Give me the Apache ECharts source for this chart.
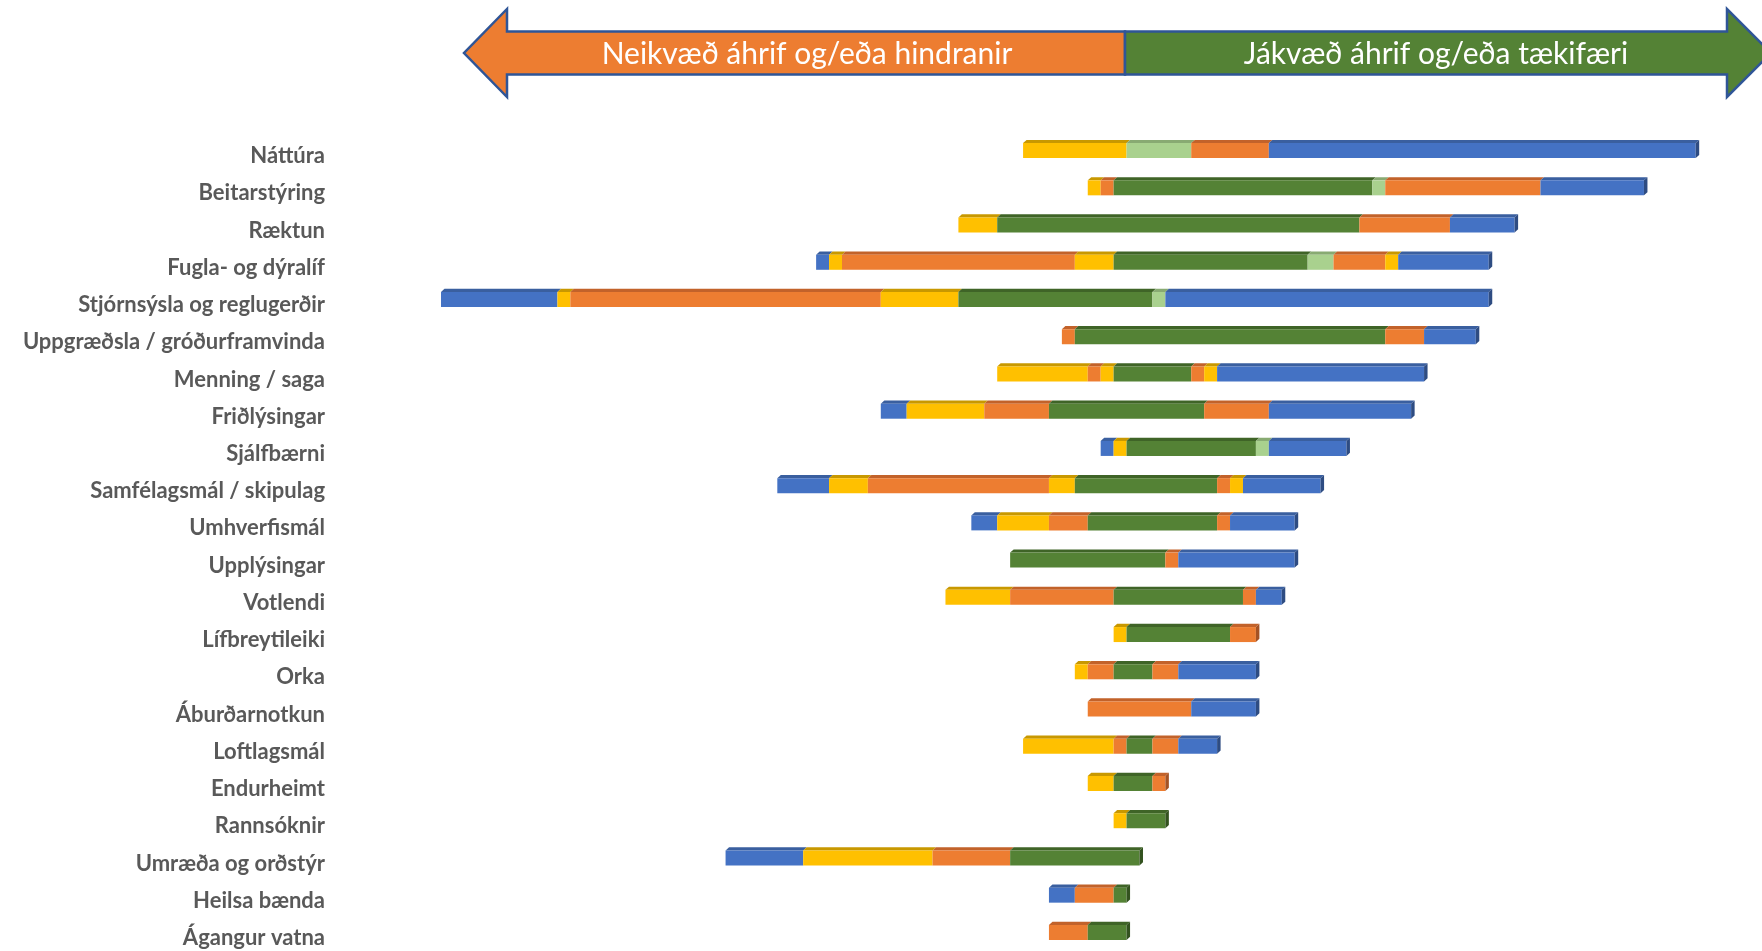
<!DOCTYPE html>
<html>
<head>
<meta charset="utf-8">
<script src="https://cdn.jsdelivr.net/npm/echarts@6/dist/echarts.min.js"></script>
<style>
html,body{margin:0;padding:0;background:#fff;}
#chart{width:1762px;height:951px;}
</style>
</head>
<body>
<div id="chart"></div>
<script>
// ---- DATA ----
const categories = [
  'Náttúra','Beitarstýring','Ræktun','Fugla- og dýralíf','Stjórnsýsla og reglugerðir',
  'Uppgræðsla / gróðurframvinda','Menning / saga','Friðlýsingar','Sjálfbærni',
  'Samfélagsmál / skipulag','Umhverfismál','Upplýsingar','Votlendi','Lífbreytileiki',
  'Orka','Áburðarnotkun','Loftlagsmál','Endurheimt','Rannsóknir','Umræða og orðstýr',
  'Heilsa bænda','Ágangur vatna'
];
// left starting point of each bar (invisible offset)
const offsets   = [-7,-2,-12,-23,-52,-4,-9,-18,-1,-26,-11,-8,-13,0,-3,-2,-7,-2,0,-30,-5,-5];
// stacked segments, in stacking order (left to right)
const blueA     = [0,0,0,1,9,0,0,2,1,4,2,0,0,0,0,0,0,0,0,6,2,0];
const yellowA   = [0,1,0,1,1,0,7,6,1,3,4,0,5,0,1,0,7,2,0,10,0,0];
const orangeA   = [0,1,0,18,24,1,1,5,0,14,3,0,8,0,2,8,1,0,0,6,3,3];
const yellowB   = [8,0,3,3,6,0,1,0,0,2,0,0,0,1,0,0,0,0,1,0,0,0];
const green     = [0,20,28,15,15,24,6,12,10,11,10,12,10,8,3,0,2,3,3,10,1,3];
const lightGreen= [5,1,0,2,1,0,0,0,1,0,0,0,0,0,0,0,0,0,0,0,0,0];
const orangeB   = [6,12,7,4,0,3,1,5,0,1,1,1,1,2,2,0,2,1,0,0,0,0];
const yellowC   = [0,0,0,1,0,0,1,0,0,1,0,0,0,0,0,0,0,0,0,0,0,0];
const blueB     = [33,8,5,7,25,4,16,11,6,6,5,9,2,0,6,5,3,0,0,0,0,0];

const leftTitle  = 'Neikvæð áhrif og/eða hindranir';
const rightTitle = 'Jákvæð áhrif og/eða tækifæri';

// ---- STYLE ----
const segDefs = [
  {name:'blueA', data:blueA, color:'#4472C4', top:'#3A5F9F', side:'#2E4C82'},
  {name:'yellowA', data:yellowA, color:'#FFC000', top:'#C89800', side:'#A88000'},
  {name:'orangeA', data:orangeA, color:'#ED7D31', top:'#C2622A', side:'#A45224'},
  {name:'yellowB', data:yellowB, color:'#FFC000', top:'#C89800', side:'#A88000'},
  {name:'green', data:green, color:'#548235', top:'#3F6427', side:'#33521F'},
  {name:'lightGreen', data:lightGreen, color:'#A9D18E', top:'#88AA72', side:'#6F8C5C'},
  {name:'orangeB', data:orangeB, color:'#ED7D31', top:'#C2622A', side:'#A45224'},
  {name:'yellowC', data:yellowC, color:'#FFC000', top:'#C89800', side:'#A88000'},
  {name:'blueB', data:blueB, color:'#4472C4', top:'#3A5F9F', side:'#2E4C82'}
];

// build stacked start/end per segment
const cum = offsets.slice();
const lastIdx = categories.map((_, i) => {
  let l = -1;
  segDefs.forEach((s, k) => { if (s.data[i] > 0) l = k; });
  return l;
});
const series = segDefs.map((s, k) => {
  const data = [];
  for (let i = 0; i < categories.length; i++) {
    const v = s.data[i];
    if (v > 0) {
      data.push([cum[i], cum[i] + v, i, lastIdx[i] === k ? 1 : 0]);
      cum[i] += v;
    }
  }
  return {
    name: s.name,
    type: 'custom',
    encode: {x: [0, 1], y: 2},
    data: data,
    renderItem: function (params, api) {
      const st = api.value(0), en = api.value(1), c = api.value(2), last = api.value(3);
      const p0 = api.coord([st, c]);
      const p1 = api.coord([en, c]);
      const x0 = p0[0], x1 = p1[0], cy = p0[1];
      const d = 3.5, hTop = 3.2;
      const yT = cy - 7.5, yB = cy + 7.5;
      const children = [
        {type: 'polygon', shape: {points: [[x0, yT], [x1, yT], [x1 + d, yT - hTop], [x0 + d, yT - hTop]]},
         style: {fill: s.top}},
        {type: 'rect', shape: {x: x0, y: yT, width: x1 - x0, height: yB - yT},
         style: {fill: s.color}}
      ];
      if (last) {
        children.push({type: 'polygon', shape: {points: [[x1, yT], [x1 + d, yT - hTop], [x1 + d, yB - hTop], [x1, yB]]},
          style: {fill: s.side}});
      }
      return {type: 'group', children: children};
    }
  };
});

const unitPx = 12.935;
const chart = echarts.init(document.getElementById('chart'), null, {renderer: 'canvas'});
chart.setOption({
  animation: false,
  backgroundColor: '#ffffff',
  grid: {left: 441, top: 132, width: 102 * unitPx, height: 820.2},
  xAxis: {type: 'value', min: -52, max: 50, show: false},
  yAxis: {
    type: 'category', data: categories, inverse: true,
    axisLine: {show: false}, axisTick: {show: false}, splitLine: {show: false},
    axisLabel: {
      margin: 116, fontSize: 22, fontWeight: 'bold', color: '#595959',
      fontFamily: 'Lato', verticalAlign: 'top', lineHeight: 11
    }
  },
  graphic: [
    {type: 'polygon', z: 10,
     shape: {points: [[1125, 31.5], [507, 31.5], [507, 9], [464, 53], [507, 97], [507, 74.5], [1125, 74.5]]},
     style: {fill: '#ED7D31', stroke: '#2F5597', lineWidth: 2.5}},
    {type: 'polygon', z: 10,
     shape: {points: [[1125, 31.5], [1727, 31.5], [1727, 9], [1771, 53], [1727, 97], [1727, 74.5], [1125, 74.5]]},
     style: {fill: '#548235', stroke: '#2F5597', lineWidth: 2.5}},
    {type: 'text', z: 11, x: 807, y: 54,
     style: {text: leftTitle, fill: '#ffffff', font: '30px Lato', textAlign: 'center', textVerticalAlign: 'middle'}},
    {type: 'text', z: 11, x: 1436, y: 54,
     style: {text: rightTitle, fill: '#ffffff', font: '30px Lato', textAlign: 'center', textVerticalAlign: 'middle'}}
  ],
  series: series
});
</script>
</body>
</html>
